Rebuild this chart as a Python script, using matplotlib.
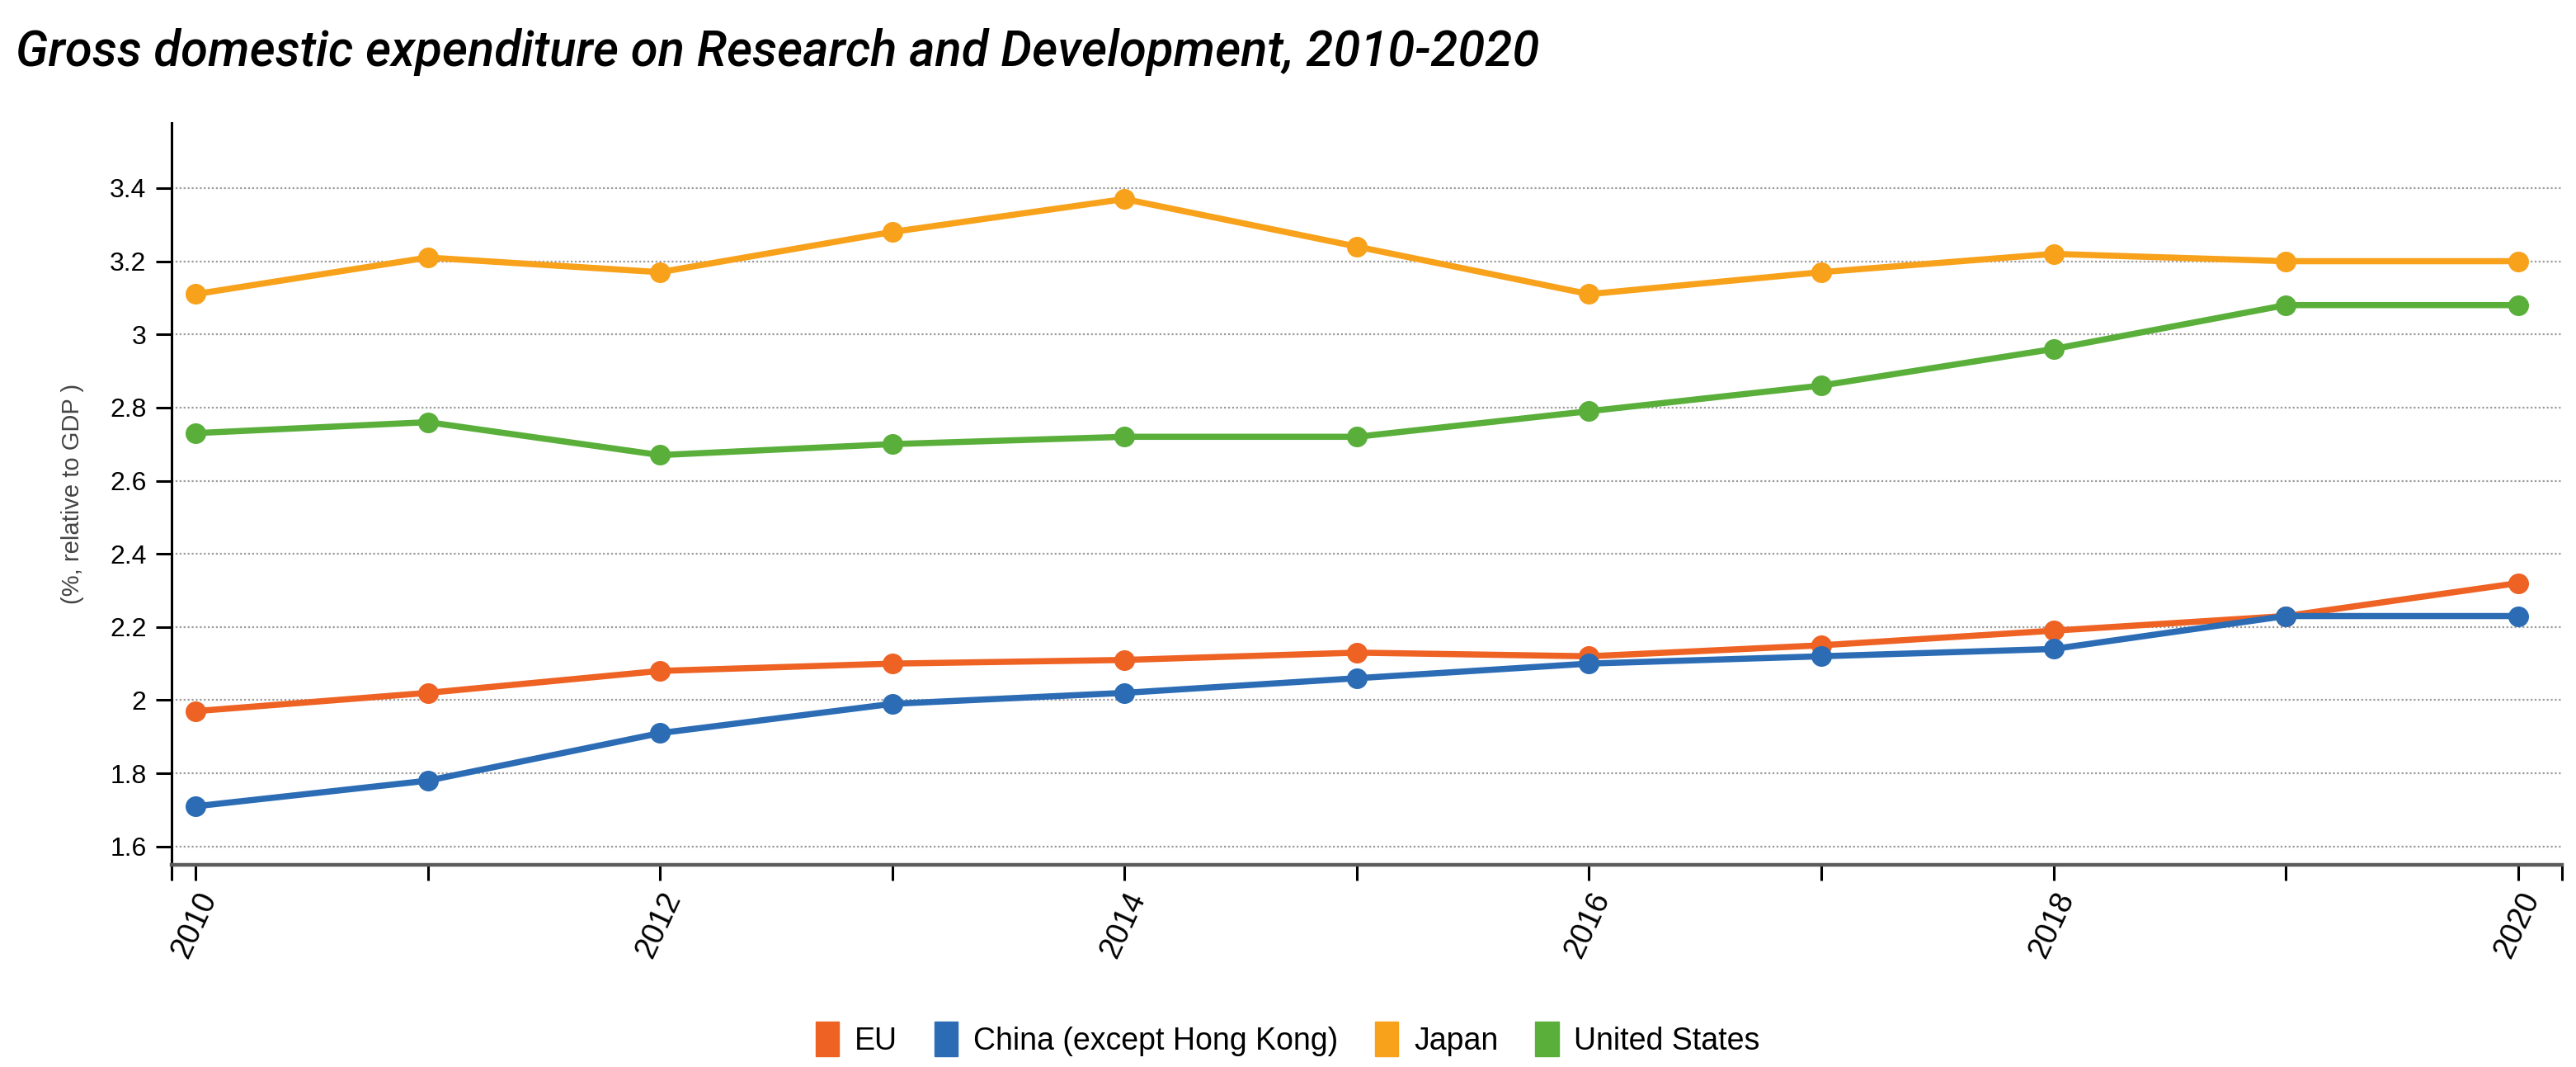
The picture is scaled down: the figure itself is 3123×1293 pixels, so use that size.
import matplotlib

matplotlib.use("Agg")
import matplotlib.pyplot as plt
from matplotlib.patches import Patch

# --------------------------------------------------------------------------- #
# Datos (% del PIB)
# --------------------------------------------------------------------------- #
years = [2010, 2011, 2012, 2013, 2014, 2015, 2016, 2017, 2018, 2019, 2020]
eu = [1.97, 2.02, 2.08, 2.10, 2.11, 2.13, 2.12, 2.15, 2.19, 2.23, 2.32]
china = [1.71, 1.78, 1.91, 1.99, 2.02, 2.06, 2.10, 2.12, 2.14, 2.23, 2.23]
japan = [3.11, 3.21, 3.17, 3.28, 3.37, 3.24, 3.11, 3.17, 3.22, 3.20, 3.20]
usa = [2.73, 2.76, 2.67, 2.70, 2.72, 2.72, 2.79, 2.86, 2.96, 3.08, 3.08]

series_names = ["EU", "China (except Hong Kong)", "Japan", "United States"]
series_colors = ["#ee6224", "#2b6cb5", "#f8a11b", "#5aaf3b"]
y_ticks = [1.6, 1.8, 2.0, 2.2, 2.4, 2.6, 2.8, 3.0, 3.2, 3.4]

TITLE = "Gross domestic expenditure on Research and Development, 2010-2020"
YLABEL = "(%, relative to GDP )"

plt.rcParams["font.family"] = ["Liberation Sans", "DejaVu Sans"]

fig = plt.figure(figsize=(31.23, 12.93), dpi=100)
ax = fig.add_axes([0.0666, 0.1895, 0.928, 0.6953])

# líneas (orden de dibujo: como en la fuente)
orden = [2, 3, 0, 1]
datos = [eu, china, japan, usa]
for i in orden:
    ax.plot(years, datos[i], "-o", color=series_colors[i], lw=5.4, ms=17,
            label=series_names[i], solid_joinstyle="round", zorder=3)

xmin, xmax = 2009.897, 2020.19
ax.set_xlim(xmin, xmax)
ax.set_ylim(1.550, 3.578)

# eje y
ax.set_yticks(y_ticks)
ax.set_yticklabels([f"{v:g}" for v in y_ticks], fontsize=23)
ax.yaxis.grid(True, ls=(0, (1, 1.2)), color="#9a9a9a", lw=1.6)
ax.set_axisbelow(True)

# eje x: etiquetas cada 2 años, ticks cada año + extremos
ax.set_xticks([y for y in years if y % 2 == 0])
ax.set_xticklabels([str(y) for y in years if y % 2 == 0], fontsize=27,
                   rotation=65, ha="right", va="top", rotation_mode="anchor")
ax.set_xticks([y for y in years if y % 2 == 1] + [xmin, xmax], minor=True)

ax.tick_params(axis="both", which="both", length=14, width=2.2, color="black")
ax.tick_params(axis="y", pad=8)
ax.tick_params(axis="x", pad=6)

for s in ["top", "right"]:
    ax.spines[s].set_visible(False)
ax.spines["left"].set_linewidth(2.2)
ax.spines["left"].set_color("black")
ax.spines["bottom"].set_linewidth(3.2)
ax.spines["bottom"].set_color("#5a5a5a")

ax.set_ylabel(YLABEL, fontsize=21, color="#444444", labelpad=22)

fig.text(0.006, 0.951, TITLE, fontsize=43, style="italic", weight="medium",
         family=["Roboto", "Liberation Sans", "DejaVu Sans"],
         ha="left", va="center")

handles = [Patch(facecolor=c, edgecolor=c) for c in series_colors]
fig.legend(handles, series_names, loc="center", bbox_to_anchor=(0.5, 0.026),
           ncol=4, frameon=False, fontsize=27, handlelength=0.75, handleheight=1.35,
           handletextpad=0.5, columnspacing=1.2)

fig.savefig("out.png", dpi=100)
